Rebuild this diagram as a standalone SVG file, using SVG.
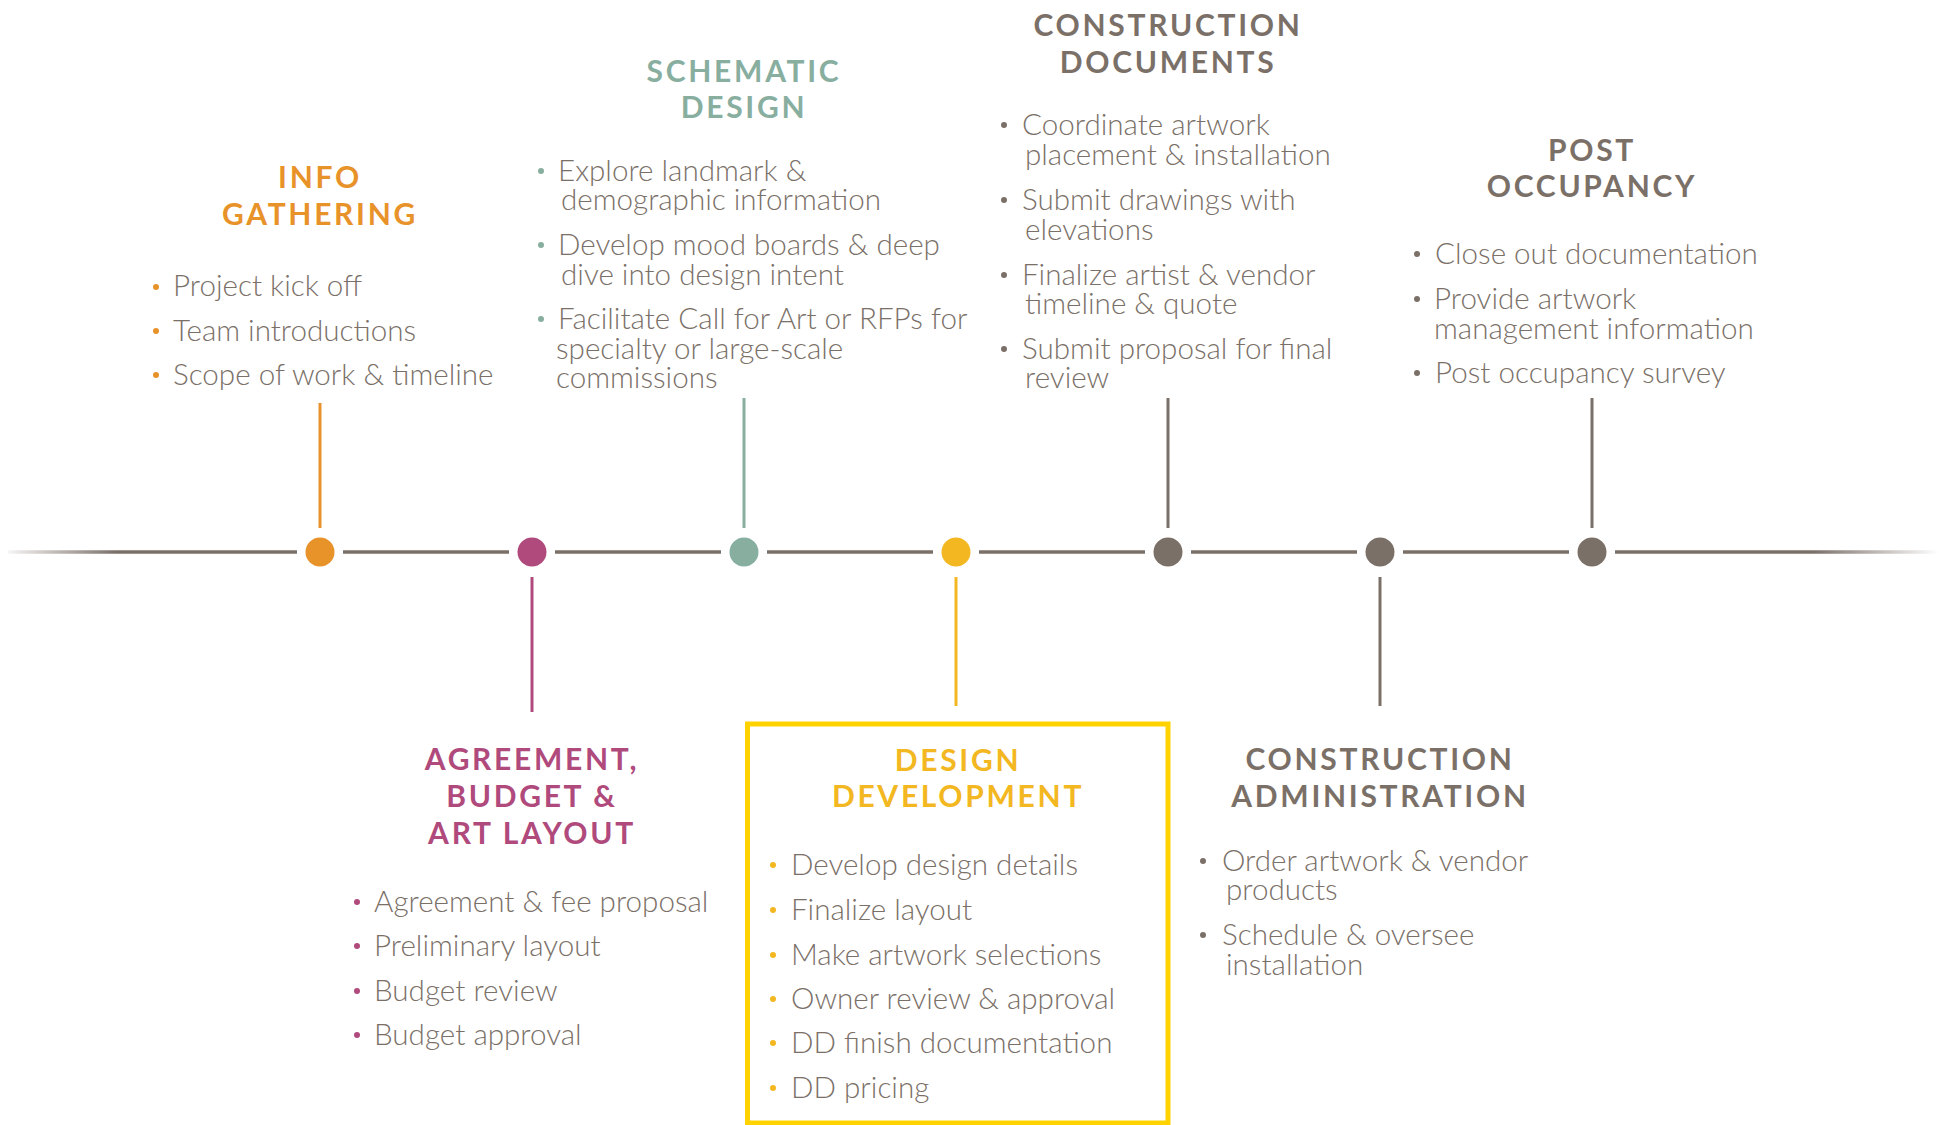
<svg xmlns="http://www.w3.org/2000/svg" width="1939" height="1125" viewBox="0 0 1939 1125">
<defs>
<linearGradient id="tl" gradientUnits="userSpaceOnUse" x1="0" y1="0" x2="1939" y2="0">
<stop offset="0" stop-color="#7b7068" stop-opacity="0"/>
<stop offset="0.06" stop-color="#7b7068" stop-opacity="1"/>
<stop offset="0.935" stop-color="#7b7068" stop-opacity="1"/>
<stop offset="1" stop-color="#7b7068" stop-opacity="0"/>
</linearGradient>
<style>
.h{font-family:Lato,"Open Sans",sans-serif;font-weight:700;font-size:30px;letter-spacing:2.7px;text-anchor:middle}
.b{font-family:Lato,"Open Sans",sans-serif;font-weight:300;font-size:29.6px;fill:#7a7068}
.stem{stroke-width:3;fill:none}
.org{fill:#e8922a}.mag{fill:#b04a7c}.teal{fill:#88ae9f}.yel{fill:#f3b722}.gry{fill:#7b7068}
</style>
</defs>
<rect width="1939" height="1125" fill="#fff"/>
<g id="connectors">
<path d="M8 552H297M343 552H509M555 552H721M767 552H933M979 552H1145M1191 552H1357M1403 552H1569M1615 552H1939" stroke="url(#tl)" stroke-width="3.5" fill="none"/>
<line class="stem" x1="320" y1="403" x2="320" y2="528" stroke="#e8922a"/>
<line class="stem" x1="744" y1="398" x2="744" y2="528" stroke="#88ae9f"/>
<line class="stem" x1="1168" y1="398" x2="1168" y2="528" stroke="#7b7068"/>
<line class="stem" x1="1592" y1="398" x2="1592" y2="528" stroke="#7b7068"/>
<line class="stem" x1="532" y1="577" x2="532" y2="712" stroke="#b04a7c"/>
<line class="stem" x1="956" y1="577" x2="956" y2="706" stroke="#f3b722"/>
<line class="stem" x1="1380" y1="577" x2="1380" y2="706" stroke="#7b7068"/>
</g>
<g id="info-gathering">
<circle class="org" cx="320" cy="552" r="14.5"/>
<text class="h org" x="320" y="188">INFO</text>
<text class="h org" x="320" y="225">GATHERING</text>
<circle class="org" cx="156" cy="287" r="3"/><circle class="org" cx="156" cy="331" r="3"/><circle class="org" cx="156" cy="375" r="3"/>
<text class="b" x="173" y="296">Project kick off</text>
<text class="b" x="173" y="341">Team introductions</text>
<text class="b" x="173" y="385">Scope of work &amp; timeline</text>
</g>
<g id="agreement-budget">
<circle class="mag" cx="532" cy="552" r="14.5"/>
<text class="h mag" x="532" y="770">AGREEMENT,</text>
<text class="h mag" x="532" y="807">BUDGET &amp;</text>
<text class="h mag" x="532" y="844">ART LAYOUT</text>
<circle class="mag" cx="357" cy="902" r="3"/><circle class="mag" cx="357" cy="946" r="3"/><circle class="mag" cx="357" cy="991" r="3"/><circle class="mag" cx="357" cy="1035" r="3"/>
<text class="b" x="374" y="912">Agreement &amp; fee proposal</text>
<text class="b" x="374" y="956">Preliminary layout</text>
<text class="b" x="374" y="1001">Budget review</text>
<text class="b" x="374" y="1045">Budget approval</text>
</g>
<g id="schematic-design">
<circle class="teal" cx="744" cy="552" r="14.5"/>
<text class="h teal" x="744" y="82">SCHEMATIC</text>
<text class="h teal" x="744" y="118">DESIGN</text>
<circle class="teal" cx="541" cy="171" r="3"/><circle class="teal" cx="541" cy="245" r="3"/><circle class="teal" cx="541" cy="319" r="3"/>
<text class="b" x="558" y="181">Explore landmark &amp;</text>
<text class="b" x="561" y="210">demographic information</text>
<text class="b" x="558" y="255">Develop mood boards &amp; deep</text>
<text class="b" x="561" y="285">dive into design intent</text>
<text class="b" x="558" y="329">Facilitate Call for Art or RFPs for</text>
<text class="b" x="556" y="359">specialty or large-scale</text>
<text class="b" x="556" y="388">commissions</text>
</g>
<g id="design-development">
<circle class="yel" cx="956" cy="552" r="14.5"/>
<rect x="747.5" y="724" width="420.5" height="399" fill="none" stroke="#ffd200" stroke-width="5"/>
<text class="h yel" x="958" y="771">DESIGN</text>
<text class="h yel" x="958" y="807">DEVELOPMENT</text>
<circle class="yel" cx="773" cy="865" r="3"/><circle class="yel" cx="773" cy="910" r="3"/><circle class="yel" cx="773" cy="955" r="3"/><circle class="yel" cx="773" cy="999" r="3"/><circle class="yel" cx="773" cy="1043" r="3"/><circle class="yel" cx="773" cy="1088" r="3"/>
<text class="b" x="791" y="875">Develop design details</text>
<text class="b" x="791" y="920">Finalize layout</text>
<text class="b" x="791" y="965">Make artwork selections</text>
<text class="b" x="791" y="1009">Owner review &amp; approval</text>
<text class="b" x="791" y="1053">DD finish documentation</text>
<text class="b" x="791" y="1098">DD pricing</text>
</g>
<g id="construction-documents">
<circle class="gry" cx="1168" cy="552" r="14.5"/>
<text class="h gry" x="1168" y="36">CONSTRUCTION</text>
<text class="h gry" x="1168" y="73">DOCUMENTS</text>
<circle class="gry" cx="1004" cy="125" r="3"/><circle class="gry" cx="1004" cy="200" r="3"/><circle class="gry" cx="1004" cy="275" r="3"/><circle class="gry" cx="1004" cy="349" r="3"/>
<text class="b" x="1022" y="135">Coordinate artwork</text>
<text class="b" x="1025" y="165">placement &amp; installation</text>
<text class="b" x="1022" y="210">Submit drawings with</text>
<text class="b" x="1025" y="240">elevations</text>
<text class="b" x="1022" y="285">Finalize artist &amp; vendor</text>
<text class="b" x="1025" y="314">timeline &amp; quote</text>
<text class="b" x="1022" y="359">Submit proposal for final</text>
<text class="b" x="1025" y="388">review</text>
</g>
<g id="construction-administration">
<circle class="gry" cx="1380" cy="552" r="14.5"/>
<text class="h gry" x="1380" y="770">CONSTRUCTION</text>
<text class="h gry" x="1380" y="807">ADMINISTRATION</text>
<circle class="gry" cx="1203" cy="861" r="3"/><circle class="gry" cx="1203" cy="935" r="3"/>
<text class="b" x="1222" y="871">Order artwork &amp; vendor</text>
<text class="b" x="1226" y="900">products</text>
<text class="b" x="1222" y="945">Schedule &amp; oversee</text>
<text class="b" x="1226" y="975">installation</text>
</g>
<g id="post-occupancy">
<circle class="gry" cx="1592" cy="552" r="14.5"/>
<text class="h gry" x="1592" y="161">POST</text>
<text class="h gry" x="1592" y="197">OCCUPANCY</text>
<circle class="gry" cx="1417" cy="254" r="3"/><circle class="gry" cx="1417" cy="299" r="3"/><circle class="gry" cx="1417" cy="373" r="3"/>
<text class="b" x="1435" y="264">Close out documentation</text>
<text class="b" x="1434" y="309">Provide artwork</text>
<text class="b" x="1434" y="339">management information</text>
<text class="b" x="1435" y="383">Post occupancy survey</text>
</g>
</svg>
